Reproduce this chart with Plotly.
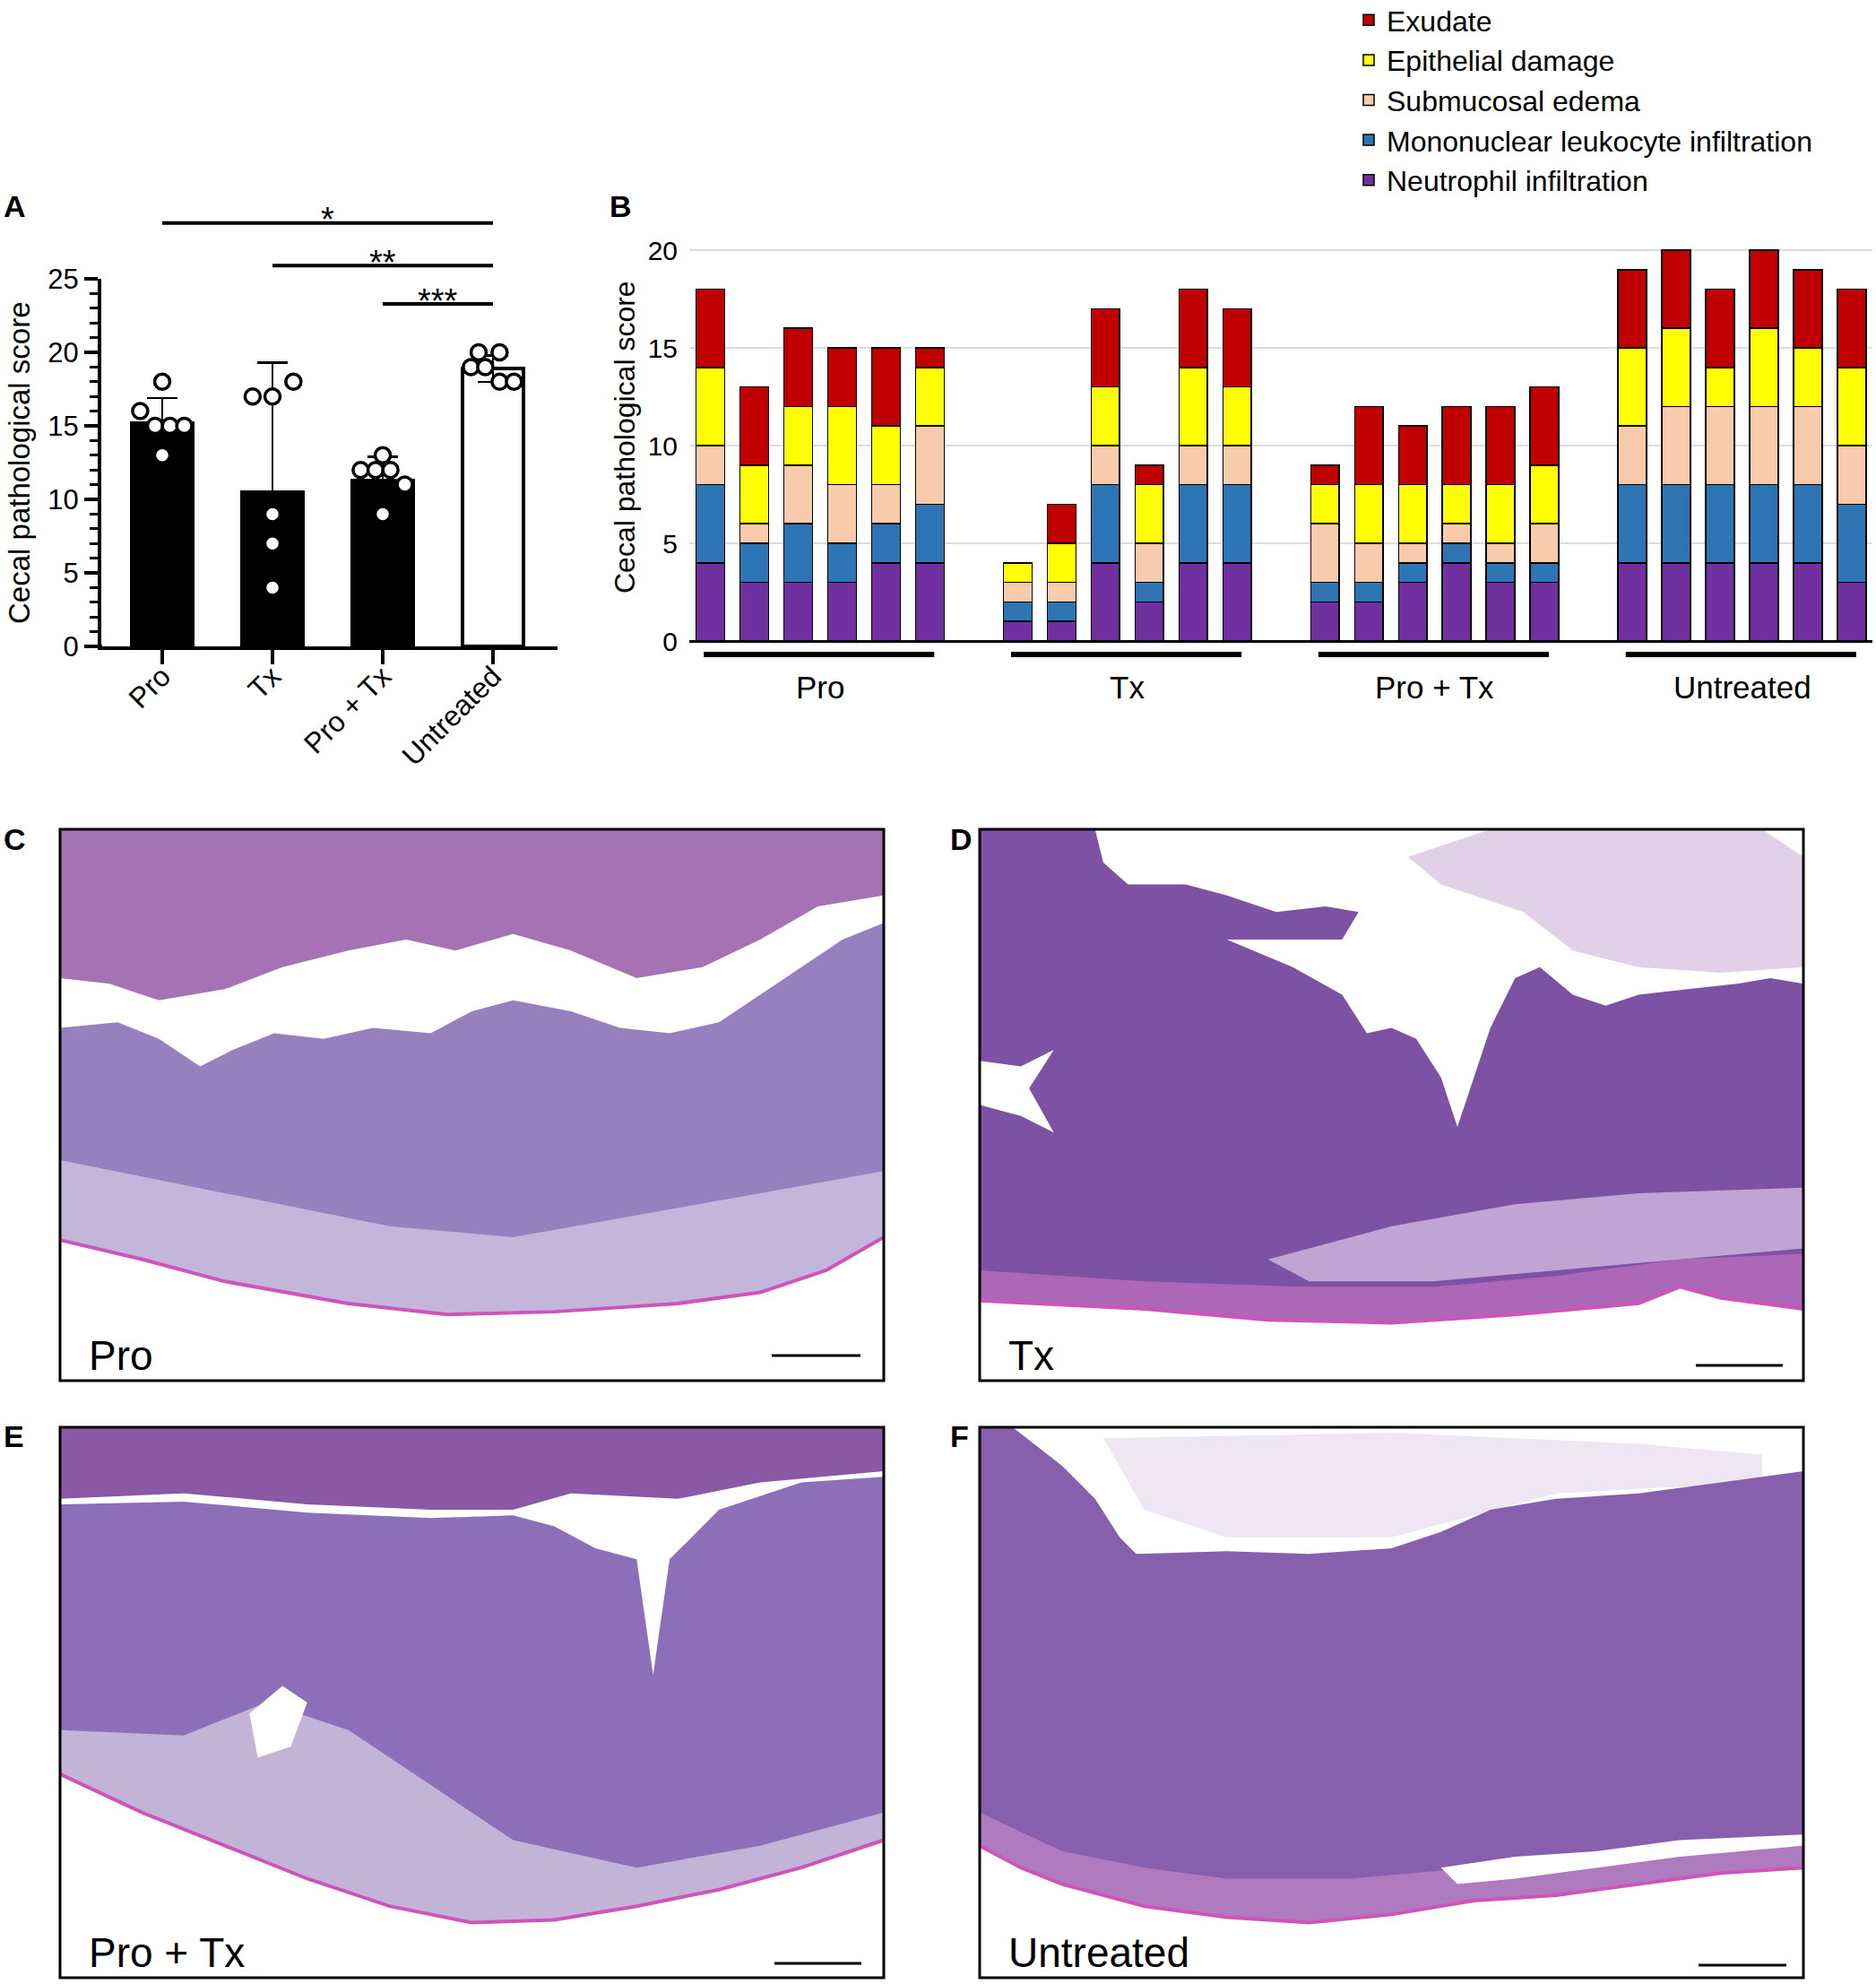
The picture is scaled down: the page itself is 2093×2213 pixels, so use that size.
import plotly.graph_objects as go

# ---- panel A: group means, SD and individual scores ----
a_groups = ["Pro", "Tx", "Pro + Tx", "Untreated"]
a_mean = [15.2, 10.5, 11.3, 18.9]
a_sd = [1.7, 8.8, 1.6, 0.9]
a_points = [
    [18, 16, 15, 15, 15, 13],
    [17, 17, 18, 9, 7, 4],
    [13, 12, 12, 12, 11, 9],
    [20, 20, 19, 19, 18, 18],
]
a_ticks = [0, 5, 10, 15, 20, 25]
# (from group, to group, label, height)
a_sig = [(0, 3, "*", 28.8), (1, 3, "**", 25.9), (2, 3, "***", 23.3)]

# ---- panel B: per-animal score components (6 animals per group) ----
b_groups = ["Pro", "Tx", "Pro + Tx", "Untreated"]
neutrophil = [4, 3, 3, 3, 4, 4, 1, 1, 4, 2, 4, 4, 2, 2, 3, 4, 3, 3, 4, 4, 4, 4, 4, 3]
mononuclear = [4, 2, 3, 2, 2, 3, 1, 1, 4, 1, 4, 4, 1, 1, 1, 1, 1, 1, 4, 4, 4, 4, 4, 4]
edema = [2, 1, 3, 3, 2, 4, 1, 1, 2, 2, 2, 2, 3, 2, 1, 1, 1, 2, 3, 4, 4, 4, 4, 3]
epithelial = [4, 3, 3, 4, 3, 3, 1, 2, 3, 3, 4, 3, 2, 3, 3, 2, 3, 3, 4, 4, 2, 4, 3, 4]
exudate = [4, 4, 4, 3, 4, 1, 0, 2, 4, 1, 4, 4, 1, 4, 3, 4, 4, 4, 4, 4, 4, 4, 4, 4]
b_ticks = [0, 5, 10, 15, 20]
components = [
    ("Neutrophil infiltration", neutrophil, "#7030A0"),
    ("Mononuclear leukocyte infiltration", mononuclear, "#2E75B6"),
    ("Submucosal edema", edema, "#F8CBAD"),
    ("Epithelial damage", epithelial, "#FFFF00"),
    ("Exudate", exudate, "#C00000"),
]

micro_labels = ["Pro", "Tx", "Pro + Tx", "Untreated"]

# ---- page geometry (pixels) ----
W, H = 2093, 2213
FONT = "Arial, 'Liberation Sans', sans-serif"


def fx(px):
    return px / W


def fy(py):
    return 1 - py / H


# panel A layout
A_LEFT, A_RIGHT = 113, 622
A_C0, A_STEP = 181, 123
A_Y0, A_PXU = 721, 16.4
a_range = [-(A_C0 - A_LEFT) / A_STEP, (A_RIGHT - A_C0) / A_STEP]
a_jitter = [
    [0, -0.2, -0.065, 0.07, 0.2, 0],
    [-0.18, 0, 0.19, 0, 0, 0],
    [0, -0.2, -0.065, 0.07, 0.2, 0],
    [-0.13, 0.06, -0.2, -0.07, 0.06, 0.19],
]

# panel B layout
B_LEFT, B_RIGHT = 769, 2089
B_S0, B_SLOT = 792.5, 48.98
B_Y0, B_PXU = 715, 21.8
b_range_x = [-(B_S0 - B_LEFT) / B_SLOT, (B_RIGHT - B_S0) / B_SLOT]
b_range_y = [-1.0, 20.3]
n_per = 6
gap = 7
b_x = [g * gap + i for g in range(len(b_groups)) for i in range(n_per)]

fig = go.Figure()

# A bars
fig.add_trace(go.Bar(
    x=list(range(len(a_groups))), y=a_mean,
    width=0.55,
    marker=dict(color=["black", "black", "black", "white"],
                line=dict(color="black", width=4)),
    error_y=dict(type="data", array=a_sd, color="black", thickness=2.5, width=17),
    xaxis="x", yaxis="y", showlegend=False,
))
px_, py_ = [], []
for g, pts in enumerate(a_points):
    for v, j in zip(pts, a_jitter[g]):
        px_.append(g + j)
        py_.append(v)
fig.add_trace(go.Scatter(
    x=px_, y=py_, mode="markers",
    marker=dict(size=17, color="white", line=dict(color="black", width=3.5)),
    xaxis="x", yaxis="y", showlegend=False, cliponaxis=False,
))

# A significance bars
for g0, g1, lab, h in a_sig:
    fig.add_trace(go.Scatter(
        x=[g0, g1], y=[h, h], mode="lines",
        line=dict(color="black", width=4),
        xaxis="x2", yaxis="y2", showlegend=False, hoverinfo="skip",
    ))
    fig.add_annotation(x=(g0 + g1) / 2, y=h + 0.2, xref="x2", yref="y2",
                       text=lab, showarrow=False, yanchor="middle",
                       font=dict(size=38, color="black", family=FONT))

# B stacked bars (legend listed top component first)
for k, (name, vals, col) in enumerate(components):
    fig.add_trace(go.Bar(
        x=b_x, y=vals, name=name, width=0.65,
        marker=dict(color=col, line=dict(color="black", width=1.5)),
        xaxis="x3", yaxis="y3", legendrank=100 - k,
    ))

for g, gname in enumerate(b_groups):
    fig.add_trace(go.Scatter(
        x=[g * gap - 0.15, g * gap + n_per - 0.9], y=[-0.69, -0.69], mode="lines",
        line=dict(color="black", width=6),
        xaxis="x3", yaxis="y3", showlegend=False, hoverinfo="skip",
    ))
    fig.add_annotation(x=g * gap + (n_per - 1) / 2, y=fy(766), xref="x3", yref="paper",
                       text=gname, showarrow=False, xanchor="center", yanchor="middle",
                       font=dict(size=35, color="black", family=FONT))

# ---- micrograph approximations ----
boxes = [(67, 925, 986, 1540), (1093, 925, 2012, 1540),
         (67, 1592, 986, 2206), (1093, 1592, 2012, 2206)]


def frame_path(box, pts, close=True):
    x0, y0, x1, y1 = box
    c = [(fx(x0 + (x1 - x0) * u), fy(y0 + (y1 - y0) * v)) for u, v in pts]
    s = "M" + "L".join(f"{a:.5f},{b:.5f}" for a, b in c)
    return s + ("Z" if close else "")


C_bottom = [(1, 0.74), (0.93, 0.8), (0.85, 0.84), (0.75, 0.86), (0.6, 0.875),
            (0.47, 0.88), (0.35, 0.86), (0.2, 0.82), (0.1, 0.78), (0, 0.745)]
D_bottom = [(1, 0.87), (0.9, 0.85), (0.85, 0.83), (0.8, 0.86), (0.65, 0.88),
            (0.5, 0.895), (0.35, 0.89), (0.2, 0.87), (0, 0.855)]
E_bottom = [(1, 0.75), (0.9, 0.8), (0.8, 0.84), (0.7, 0.87), (0.6, 0.895), (0.5, 0.9),
            (0.4, 0.87), (0.3, 0.82), (0.2, 0.76), (0.1, 0.7), (0, 0.63)]
F_bottom = [(1, 0.8), (0.9, 0.81), (0.8, 0.83), (0.7, 0.85), (0.6, 0.86), (0.5, 0.885),
            (0.4, 0.9), (0.3, 0.89), (0.2, 0.87), (0.1, 0.83), (0.05, 0.8), (0, 0.76)]

tissue = [
    # C (Pro)
    (0, [(0, 0), (1, 0), (1, 0.12), (0.92, 0.14), (0.85, 0.2), (0.78, 0.25), (0.7, 0.27),
         (0.62, 0.22), (0.55, 0.19), (0.48, 0.22), (0.42, 0.2), (0.35, 0.22), (0.27, 0.25),
         (0.2, 0.29), (0.12, 0.31), (0.06, 0.28), (0, 0.27)], "rgb(165,115,180)"),
    (0, [(0, 0.36), (0.07, 0.35), (0.12, 0.38), (0.17, 0.43), (0.21, 0.40), (0.26, 0.37),
         (0.32, 0.38), (0.38, 0.36), (0.45, 0.37), (0.5, 0.33), (0.55, 0.31), (0.62, 0.33),
         (0.68, 0.36), (0.74, 0.37), (0.8, 0.35), (0.85, 0.3), (0.9, 0.25), (0.95, 0.2),
         (1, 0.17)] + C_bottom, "rgb(150,128,190)"),
    (0, [(0, 0.6), (0.2, 0.66), (0.4, 0.72), (0.55, 0.74), (0.7, 0.7), (0.85, 0.66),
         (1, 0.62)] + C_bottom, "rgb(196,182,218)"),
    # D (Tx)
    (1, [(0.52, 0.05), (0.62, 0), (0.95, 0), (1, 0.05), (1, 0.25), (0.9, 0.26), (0.8, 0.25),
         (0.72, 0.22), (0.66, 0.15), (0.56, 0.1)], "rgb(226,208,233)"),
    (1, [(0, 0), (0.14, 0), (0.15, 0.06), (0.18, 0.1), (0.25, 0.1), (0.3, 0.12), (0.36, 0.15),
         (0.42, 0.14), (0.46, 0.15), (0.44, 0.2), (0.3, 0.2), (0.38, 0.25), (0.44, 0.3),
         (0.47, 0.37), (0.5, 0.36), (0.53, 0.38), (0.56, 0.45), (0.58, 0.54), (0.6, 0.45),
         (0.62, 0.36), (0.65, 0.27), (0.68, 0.25), (0.72, 0.3), (0.76, 0.32), (0.8, 0.3),
         (0.86, 0.29), (0.92, 0.28), (0.96, 0.27), (1, 0.28)] + D_bottom, "rgb(125,82,165)"),
    (1, [(0.35, 0.78), (0.5, 0.72), (0.65, 0.68), (0.8, 0.66), (1, 0.65), (1, 0.76),
         (0.85, 0.78), (0.7, 0.8), (0.55, 0.82), (0.4, 0.82)], "rgb(192,165,212)"),
    (1, [(0, 0.8), (0.2, 0.82), (0.4, 0.83), (0.55, 0.83), (0.7, 0.81), (0.85, 0.78),
         (1, 0.77)] + D_bottom, "rgb(172,104,182)"),
    (1, [(0, 0.42), (0.05, 0.43), (0.09, 0.4), (0.06, 0.47), (0.09, 0.55), (0.05, 0.52),
         (0, 0.5)], "white"),
    # E (Pro + Tx)
    (2, [(0, 0), (1, 0), (1, 0.08), (0.85, 0.1), (0.75, 0.13), (0.62, 0.12), (0.55, 0.15),
         (0.45, 0.15), (0.3, 0.14), (0.15, 0.12), (0, 0.13)], "rgb(138,88,165)"),
    (2, [(0, 0.14), (0.15, 0.135), (0.3, 0.155), (0.45, 0.165), (0.55, 0.16), (0.6, 0.18),
         (0.65, 0.22), (0.7, 0.24), (0.72, 0.45), (0.74, 0.24), (0.8, 0.15), (0.9, 0.1),
         (1, 0.09)] + E_bottom, "rgb(140,110,185)"),
    (2, [(0, 0.55), (0.15, 0.56), (0.25, 0.5), (0.35, 0.55), (0.45, 0.65), (0.55, 0.75),
         (0.7, 0.8), (0.85, 0.76), (1, 0.7)] + E_bottom, "rgb(195,180,215)"),
    (2, [(0.23, 0.52), (0.27, 0.47), (0.3, 0.5), (0.28, 0.58), (0.24, 0.6)], "white"),
    # F (Untreated)
    (3, [(0.15, 0.02), (0.5, 0.01), (0.8, 0.03), (0.95, 0.05), (0.95, 0.1), (0.7, 0.12),
         (0.5, 0.2), (0.3, 0.2), (0.2, 0.15)], "rgb(238,230,242)"),
    (3, [(0, 0), (0.04, 0), (0.1, 0.07), (0.14, 0.13), (0.17, 0.2), (0.19, 0.23), (0.3, 0.225),
         (0.4, 0.23), (0.5, 0.22), (0.56, 0.19), (0.62, 0.15), (0.7, 0.13), (0.8, 0.12),
         (0.9, 0.1), (1, 0.08)] + F_bottom, "rgb(135,95,172)"),
    (3, [(0, 0.7), (0.1, 0.77), (0.2, 0.8), (0.3, 0.82), (0.45, 0.82), (0.6, 0.8),
         (0.75, 0.79), (0.9, 0.77), (1, 0.76)] + F_bottom, "rgb(176,122,190)"),
    (3, [(0.56, 0.8), (0.65, 0.78), (0.75, 0.77), (0.85, 0.75), (1, 0.74), (1, 0.76),
         (0.85, 0.78), (0.75, 0.8), (0.65, 0.82), (0.58, 0.83)], "white"),
]

shapes = []
for bi, pts, col in tissue:
    shapes.append(dict(type="path", xref="paper", yref="paper",
                       path=frame_path(boxes[bi], pts), fillcolor=col,
                       line=dict(width=0), layer="above"))
# pink serosal edges
for bi, edge in [(0, C_bottom), (2, E_bottom), (3, F_bottom), (1, D_bottom)]:
    shapes.append(dict(type="path", xref="paper", yref="paper",
                       path=frame_path(boxes[bi], edge, close=False),
                       line=dict(color="rgb(205,85,185)", width=4), layer="above"))
for x0, y0, x1, y1 in boxes:
    shapes.append(dict(type="rect", xref="paper", yref="paper",
                       x0=fx(x0), x1=fx(x1), y0=fy(y0), y1=fy(y1),
                       line=dict(color="black", width=3), layer="above"))
# scale bars
for x0, x1, yy in [(861, 960, 1512), (1892, 1989, 1523), (864, 961, 2190), (1895, 1993, 2192)]:
    shapes.append(dict(type="line", xref="paper", yref="paper",
                       x0=fx(x0), x1=fx(x1), y0=fy(yy), y1=fy(yy),
                       line=dict(color="black", width=3), layer="above"))
# x axis of A extends slightly left of the y axis
shapes.append(dict(type="line", xref="paper", yref="paper",
                   x0=fx(101), x1=fx(114), y0=fy(A_Y0), y1=fy(A_Y0),
                   line=dict(color="black", width=4)))

# micrograph labels
for (x0, y0, x1, y1), lab in zip(boxes, micro_labels):
    fig.add_annotation(x=fx(x0 + 30), y=fy(y1 - 28), xref="paper", yref="paper",
                       text=lab, showarrow=False, xanchor="left", yanchor="middle",
                       font=dict(size=46, color="black", family=FONT))

# panel letters
for lab, x, y in [("A", 2, 230), ("B", 678, 230), ("C", 2, 936), ("D", 1058, 936),
                  ("E", 2, 1602), ("F", 1058, 1602)]:
    fig.add_annotation(x=fx(x), y=fy(y), xref="paper", yref="paper", text=f"<b>{lab}</b>",
                       showarrow=False, xanchor="left", yanchor="middle",
                       font=dict(size=34, color="black", family=FONT))

# axis titles
fig.add_annotation(x=fx(22), y=fy(516), xref="paper", yref="paper",
                   text="Cecal pathological score", textangle=-90, showarrow=False,
                   xanchor="center", yanchor="middle",
                   font=dict(size=33, color="black", family=FONT))
fig.add_annotation(x=fx(697), y=fy(488), xref="paper", yref="paper",
                   text="Cecal pathological score", textangle=-90, showarrow=False,
                   xanchor="center", yanchor="middle",
                   font=dict(size=32, color="black", family=FONT))

fig.update_layout(
    width=W, height=H,
    margin=dict(l=0, r=0, t=0, b=0, autoexpand=False),
    paper_bgcolor="white", plot_bgcolor="rgba(0,0,0,0)",
    font=dict(family=FONT, color="black"),
    barmode="stack",
    shapes=shapes,
    legend=dict(x=fx(1507), y=fy(-5), xanchor="left", yanchor="top",
                traceorder="normal",
                font=dict(size=32, color="black", family=FONT),
                bgcolor="rgba(0,0,0,0)"),
    xaxis=dict(domain=[fx(A_LEFT), fx(A_RIGHT)], range=a_range, anchor="y",
               tickvals=list(range(len(a_groups))), ticktext=a_groups, tickangle=-45,
               ticks="outside", ticklen=16, tickwidth=4, tickcolor="black",
               ticklabelstandoff=-18,
               showline=True, linewidth=4, linecolor="black", showgrid=False,
               zeroline=False, tickfont=dict(size=32)),
    yaxis=dict(domain=[fy(A_Y0), fy(A_Y0 - 25 * A_PXU)], range=[0, 25], anchor="x",
               tickvals=a_ticks, ticks="outside", ticklen=15, tickwidth=3.5,
               tickcolor="black", showline=True, linewidth=4, linecolor="black",
               showgrid=False, zeroline=False, tickfont=dict(size=31),
               minor=dict(dtick=1, ticks="outside", ticklen=9, tickwidth=3,
                          tickcolor="black", showgrid=False)),
    xaxis2=dict(domain=[fx(A_LEFT), fx(A_RIGHT)], range=a_range, anchor="y2",
                visible=False),
    yaxis2=dict(domain=[fy(A_Y0), fy(A_Y0 - 30 * A_PXU)], range=[0, 30], anchor="x2",
                visible=False),
    xaxis3=dict(domain=[fx(B_LEFT), fx(B_RIGHT)], range=b_range_x, anchor="y3",
                showticklabels=False, showgrid=False, zeroline=False, ticks=""),
    yaxis3=dict(domain=[fy(B_Y0 - b_range_y[0] * B_PXU), fy(B_Y0 - b_range_y[1] * B_PXU)],
                range=b_range_y, anchor="x3", tickvals=b_ticks,
                showgrid=True, gridcolor="#dcdcdc", gridwidth=2,
                zeroline=True, zerolinecolor="black", zerolinewidth=3,
                showline=False, ticks="outside", ticklen=6, tickcolor="rgba(0,0,0,0)",
                tickfont=dict(size=30)),
)

fig.write_html("out.html", config={"displayModeBar": False},
               post_script="document.body.style.margin='0px';")
